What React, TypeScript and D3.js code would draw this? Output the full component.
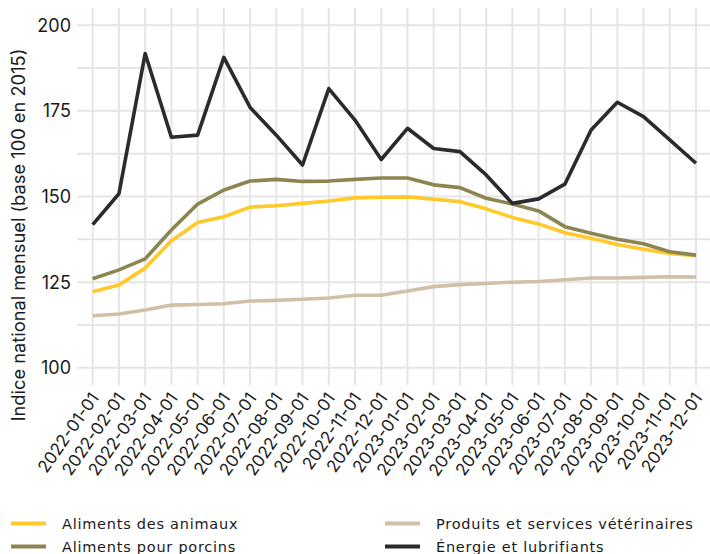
import React from "react";
import * as d3 from "d3";

const months = [
  "2022-01-01","2022-02-01","2022-03-01","2022-04-01","2022-05-01","2022-06-01",
  "2022-07-01","2022-08-01","2022-09-01","2022-10-01","2022-11-01","2022-12-01",
  "2023-01-01","2023-02-01","2023-03-01","2023-04-01","2023-05-01","2023-06-01",
  "2023-07-01","2023-08-01","2023-09-01","2023-10-01","2023-11-01","2023-12-01",
];

const alimentsAnimaux = [122.2,124.2,129.1,137.1,142.4,144.1,146.9,147.3,148.0,148.7,149.6,149.8,
  149.9,149.2,148.5,146.4,143.9,142.0,139.4,137.8,136.0,134.6,133.4,132.7];
const alimentsPorcins = [126.0,128.6,131.8,140.2,147.8,151.9,154.5,155.0,154.4,154.5,155.0,155.4,
  155.4,153.4,152.6,149.5,147.8,145.8,141.2,139.3,137.5,136.2,133.9,132.9];
const veterinaires = [115.2,115.7,116.9,118.3,118.5,118.7,119.5,119.7,120.0,120.4,121.2,121.2,
  122.4,123.7,124.3,124.6,125.0,125.2,125.7,126.2,126.2,126.4,126.6,126.5];
const energie = [141.8,150.8,191.7,167.3,167.9,190.6,176.0,167.9,159.2,181.5,172.3,160.8,
  169.9,164.0,163.1,156.3,148.0,149.3,153.6,169.4,177.5,173.3,166.5,159.7];

const yTicks = [100, 125, 150, 175, 200];
const yMinor = [112.5, 137.5, 162.5, 187.5];

const seriesNames = [
  "Aliments des animaux",
  "Aliments pour porcins",
  "Produits et services vétérinaires",
  "Énergie et lubrifiants",
];
const seriesColors = ["#FFC929", "#8C8550", "#D1BFA7", "#2B2A2E"];
const seriesValues = [alimentsAnimaux, alimentsPorcins, veterinaires, energie];
const drawOrder = [2, 0, 1, 3];

const FONT = "Inter, 'Noto Sans', sans-serif";

export default function App() {
  const W = 710, H = 554;
  const x = d3.scalePoint<string>().domain(months).range([92.7, 696]);
  const y = d3.scaleLinear().domain([95, 205]).range([385, 8]);
  const panelLeft = 77, panelRight = 712, panelTop = 8, panelBottom = 385;

  const line = (vals: number[]) =>
    d3.line<number>()
      .x((_, i) => x(months[i]) as number)
      .y((v) => y(v))(vals) as string;

  const legendItems = [
    { idx: 0, kx: 11, ty: 523.5 },
    { idx: 1, kx: 11, ty: 546.5 },
    { idx: 2, kx: 385, ty: 523.5 },
    { idx: 3, kx: 385, ty: 546.5 },
  ];

  return (
    <svg width={W} height={H} style={{ position: "absolute", left: 0, top: 0, background: "#fff" }}>
      <g>
        {[...yTicks, ...yMinor].map((t) => (
          <line key={"h" + t} x1={panelLeft} x2={panelRight} y1={y(t)} y2={y(t)} stroke="#E5E5E5" strokeWidth={2} />
        ))}
        {months.map((m) => (
          <line key={"v" + m} x1={x(m)} x2={x(m)} y1={panelTop} y2={panelBottom} stroke="#E5E5E5" strokeWidth={2} />
        ))}
      </g>
      <g>
        {drawOrder.map((si) => (
          <path key={si} d={line(seriesValues[si])} fill="none" stroke={seriesColors[si]}
            strokeWidth={3.6} strokeLinejoin="round" strokeLinecap="butt" />
        ))}
      </g>
      <g fontFamily={FONT} fontSize={18} fill="#1a1a1a">
        {yTicks.map((t) => (
          <text key={t} x={71} y={y(t)} dy="0.36em" textAnchor="end">{t}</text>
        ))}
      </g>
      <g fontFamily={FONT} fontSize={17} fill="#1a1a1a">
        {months.map((m) => (
          <text key={m} transform={`translate(${(x(m) as number) - 3},${391}) rotate(-55)`}
            textAnchor="end" dy="0.72em">{m}</text>
        ))}
      </g>
      <text transform="translate(25,235) rotate(-90)" textAnchor="middle" fontFamily={FONT}
        fontSize={18.3} fill="#1a1a1a">Indice national mensuel (base 100 en 2015)</text>
      <g fontFamily="'DejaVu Sans', sans-serif" fontSize={14.5} letterSpacing={0.75} fill="#1a1a1a">
        {legendItems.map((it) => (
          <g key={it.idx}>
            <line x1={it.kx} x2={it.kx + 35} y1={it.ty} y2={it.ty} stroke={seriesColors[it.idx]} strokeWidth={4} />
            <text x={it.kx + 51} y={it.ty} dy="0.35em">{seriesNames[it.idx]}</text>
          </g>
        ))}
      </g>
    </svg>
  );
}
